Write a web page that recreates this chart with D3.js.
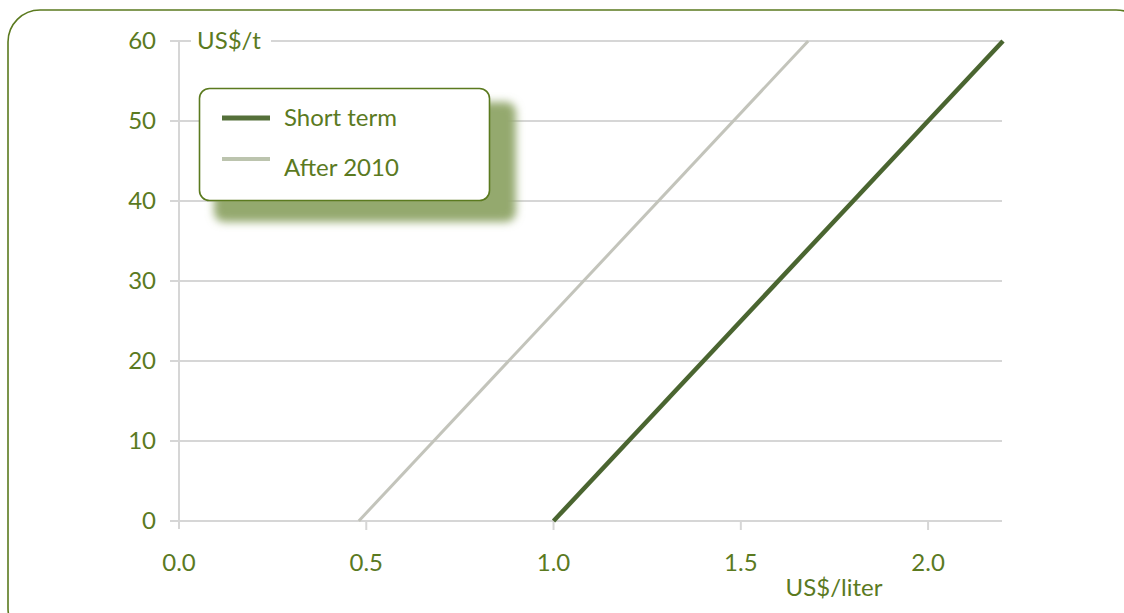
<!DOCTYPE html>
<html><head><meta charset="utf-8">
<script src="https://cdn.jsdelivr.net/npm/d3@7"></script>
<style>html,body{margin:0;padding:0;background:#fff;}</style>
</head><body>
<svg id="c" width="1124" height="613"></svg>
<script>
const xTicks = [0.0, 0.5, 1.0, 1.5, 2.0];
const yTicks = [0, 10, 20, 30, 40, 50, 60];
const seriesNames = ["Short term", "After 2010"];
const shortTermX = [1.0, 2.2];
const shortTermY = [0, 60];
const after2010X = [0.48, 1.68];
const after2010Y = [0, 60];
const xTitle = "US$/liter";
const yTitle = "US$/t";

const green = "#5b7a1f";
const font = "Lato, 'Open Sans', sans-serif";
const fs = 24;
const svg = d3.select("#c");

const defs = svg.append("defs");
const f = defs.append("filter").attr("id","blur").attr("x","-20%").attr("y","-20%").attr("width","140%").attr("height","140%");
f.append("feGaussianBlur").attr("stdDeviation",4);

// outer frame
svg.append("rect").attr("x",8).attr("y",10).attr("width",1140).attr("height",630).attr("rx",32)
  .attr("fill","none").attr("stroke",green).attr("stroke-width",1.6);

const x = d3.scaleLinear().domain([0,2.2]).range([179,1003]);
const y = d3.scaleLinear().domain([0,60]).range([521,41]);

// gridlines
svg.append("g").selectAll("line").data(yTicks).join("line")
  .attr("x1",170).attr("x2",1002).attr("y1",d=>y(d)).attr("y2",d=>y(d))
  .attr("stroke","#d6d6d6").attr("stroke-width",2);
// y axis line
svg.append("line").attr("x1",179).attr("x2",179).attr("y1",y(60)).attr("y2",y(0)+8)
  .attr("stroke","#d6d6d6").attr("stroke-width",2);
// x ticks
svg.append("g").selectAll("line").data(xTicks.slice(1)).join("line")
  .attr("x1",d=>x(d)).attr("x2",d=>x(d)).attr("y1",y(0)).attr("y2",y(0)+9)
  .attr("stroke","#d6d6d6").attr("stroke-width",2);

// y tick labels
svg.append("g").selectAll("text").data(yTicks).join("text")
  .attr("x",156).attr("y",d=>y(d)).attr("dy","0.35em").attr("text-anchor","end")
  .attr("fill",green).attr("font-family",font).attr("font-size",fs).text(d=>d);
// x tick labels
svg.append("g").selectAll("text").data(xTicks).join("text")
  .attr("x",d=>x(d)).attr("y",563).attr("dy","0.35em").attr("text-anchor","middle")
  .attr("fill",green).attr("font-family",font).attr("font-size",fs).text(d=>d.toFixed(1));

// y title with white background
svg.append("rect").attr("x",191).attr("y",28).attr("width",80).attr("height",28).attr("fill","#fff");
svg.append("text").attr("x",197).attr("y",41).attr("dy","0.35em").attr("fill",green)
  .attr("font-family",font).attr("font-size",fs).text(yTitle);
// x title
svg.append("text").attr("x",834).attr("y",588).attr("dy","0.35em").attr("text-anchor","middle").attr("fill",green)
  .attr("font-family",font).attr("font-size",fs).text(xTitle);

const line = d3.line().x(d=>x(d[0])).y(d=>y(d[1]));
svg.append("path").datum(after2010X.map((v,i)=>[v,after2010Y[i]])).attr("d",line)
  .attr("fill","none").attr("stroke","#c3c4bb").attr("stroke-width",3);
svg.append("path").datum(shortTermX.map((v,i)=>[v,shortTermY[i]])).attr("d",line)
  .attr("fill","none").attr("stroke","#4a6530").attr("stroke-width",4.5);

// legend
svg.append("rect").attr("x",214).attr("y",102).attr("width",302).attr("height",120).attr("rx",10)
  .attr("fill","#94a96e").attr("filter","url(#blur)");
svg.append("rect").attr("x",199.5).attr("y",88.5).attr("width",290).attr("height",112).attr("rx",10)
  .attr("fill","#fff").attr("stroke",green).attr("stroke-width",1.6);
const legColors = ["#55703a","#bcc4ae"];
const legWidths = [5,4];
const legY = [118,159];
seriesNames.forEach((n,i)=>{
  svg.append("line").attr("x1",222).attr("x2",270).attr("y1",legY[i]).attr("y2",legY[i])
    .attr("stroke",legColors[i]).attr("stroke-width",legWidths[i]);
  svg.append("text").attr("x",284).attr("y",legY[i]+(i?9:0)).attr("dy","0.35em").attr("fill",green)
    .attr("font-family",font).attr("font-size",fs).text(n);
});
</script>
</body></html>
